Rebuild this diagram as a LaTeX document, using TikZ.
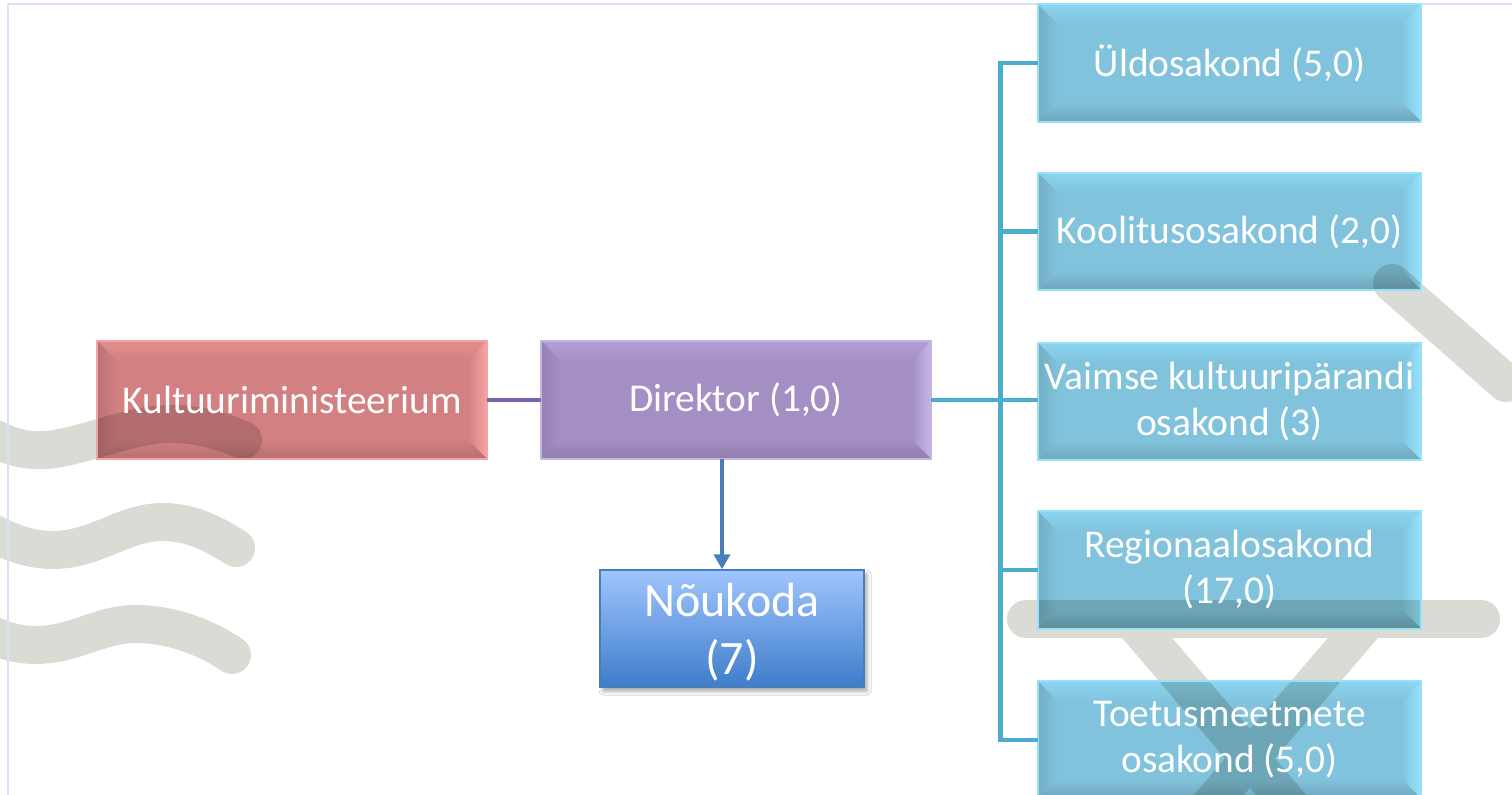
\documentclass[tikz,border=0pt]{standalone}
\usepackage{fontspec}
\setmainfont{Carlito}
\usetikzlibrary{calc,arrows.meta,shadows.blur}
\pgfdeclarelayer{deco}
\pgfdeclarelayer{boxes}
\pgfsetlayers{deco,boxes,main}
\definecolor{decoGrey}{HTML}{D9DBD5}
\definecolor{frameBlue}{HTML}{D8E2F3}
\definecolor{rMain}{HTML}{D38082}
\definecolor{rTop}{HTML}{E48E8F}
\definecolor{rRight}{HTML}{F6A4A4}
\definecolor{rLeft}{HTML}{BA7173}
\definecolor{rBot}{HTML}{B56E70}
\definecolor{rLine}{HTML}{F2A3A3}
\definecolor{pMain}{HTML}{A48FC4}
\definecolor{pTop}{HTML}{B4A0D7}
\definecolor{pRight}{HTML}{C8B6EB}
\definecolor{pLeft}{HTML}{9482B0}
\definecolor{pBot}{HTML}{8F7EAA}
\definecolor{pLine}{HTML}{C5B5E5}
\definecolor{bMain}{HTML}{81C3DC}
\definecolor{bTop}{HTML}{8BD5F0}
\definecolor{bRight}{HTML}{95E4FF}
\definecolor{bLeft}{HTML}{72ADC3}
\definecolor{bBot}{HTML}{6FA5BA}
\definecolor{bLine}{HTML}{97E1FA}
\definecolor{nouTop}{HTML}{A0C5FD}
\definecolor{nouBot}{HTML}{3E7DCA}
\definecolor{nouLine}{HTML}{4A7EBB}
\definecolor{busBlue}{HTML}{4BACCB}
\definecolor{purpLine}{HTML}{7E62A6}
\definecolor{arrBlue}{HTML}{4A7EBB}
\newcommand\bevelbox[6]{%
  \path (#1.north west) coordinate (bvA) (#1.north east) coordinate (bvB)
        (#1.south east) coordinate (bvC) (#1.south west) coordinate (bvD);
  \path ($(bvA)+(20,20)$) coordinate (bva) ($(bvB)+(-20,20)$) coordinate (bvb)
        ($(bvC)+(-20,-20)$) coordinate (bvc) ($(bvD)+(20,-20)$) coordinate (bvd);
  \fill[#2] (bvA) rectangle (bvC);
  \shade[top color=#3, bottom color=#2] (bvA) -- (bvB) -- (bvb) -- (bva) -- cycle;
  \shade[left color=#2, right color=#4] (bvB) -- (bvC) -- (bvc) -- (bvb) -- cycle;
  \shade[left color=#5, right color=#2] (bvA) -- (bva) -- (bvd) -- (bvD) -- cycle;
  \shade[top color=#2, bottom color=#6] (bvD) -- (bvd) -- (bvc) -- (bvC) -- cycle;
}
\tikzset{
  box/.style={minimum width=195pt, minimum height=59pt, inner sep=0pt, align=center,
    text=white, font=\fontsize{19.7}{23}\selectfont},
  deptbox/.style={box, minimum width=191.5pt, minimum height=58.5pt},
  nbox/.style={minimum width=132pt, minimum height=58.5pt, inner sep=0pt,
    top color=nouTop, bottom color=nouBot, draw=nouLine, line width=0.7pt,
    blur shadow={shadow xshift=1.5pt, shadow yshift=-2pt, shadow blur radius=2pt, shadow opacity=35}},
  ntext/.style={inner sep=0pt, align=center, text=white, font=\fontsize{24}{29}\selectfont},
  decoline/.style={draw=decoGrey, line width=19pt, line cap=round},
  busline/.style={draw=busBlue, line width=2.4pt},
  purpline/.style={draw=purpLine, line width=2.4pt},
  arrline/.style={draw=arrBlue, line width=2.4pt, -{Triangle[width=8pt,length=7.5pt]}},
  outline/.style={line width=1pt}
}
\begin{document}
\begin{tikzpicture}[x=0.5pt, y=-0.5pt]
\useasboundingbox (0,0) rectangle (1512,795);
\begin{scope}
\clip (0,0) rectangle (1512,795);
% nodes
\node[box] (km) at (292,400) {Kultuuriministeerium};
\node[box] (dir) at (736,400) {Direktor (1,0)};
\node[nbox] (nou) at (732,628.5) {};
\node[ntext] (noutext) at ($(nou.center)+(0,4)$) {Nõukoda\\(7)};
\node[deptbox] (d1) at (1229.5,63) {Üldosakond (5,0)};
\node[deptbox] (d2) at (1229.5,231.5) {Koolitusosakond (2,0)};
\node[deptbox] (d3) at (1229.5,401.5) {Vaimse kultuuripärandi\\osakond (3)};
\node[deptbox] (d4) at (1229.5,570) {Regionaalosakond\\(17,0)};
\node[deptbox] (d5) at (1229.5,740) {Toetusmeetmete\\osakond (5,0)};
% connectors
\draw[purpline] (km.east) -- (dir.west);
\draw[busline] (dir.east) -- ++(69,0) coordinate (bus);
\foreach \d in {d1,d2,d4,d5} {\draw[busline] (bus) |- (\d.west);}
\draw[busline] (bus) -- (bus -| d3.west);
\draw[arrline] ($(dir.south)+(-14,0)$) -- ($(nou.north)+(-10,0)$);
\end{scope}
% decoration
\begin{pgfonlayer}{deco}
\clip (0,0) rectangle (1512,795);
\fill[white] (0,0) rectangle (1512,795);
\draw[decoline] (-40,420) .. controls (-5,440) and (15,452) .. (45,450)
  .. controls (80,448) and (130,424) .. (170,424) .. controls (200,424) and (225,432) .. (243,440);
\draw[decoline] (-40,515) .. controls (-5,535) and (20,550) .. (53,550)
  .. controls (95,550) and (125,522) .. (162,522) .. controls (195,522) and (218,537) .. (236,548);
\draw[decoline] (-40,620) .. controls (-10,635) and (10,645) .. (35,645)
  .. controls (75,645) and (100,624) .. (135,624) .. controls (175,624) and (210,640) .. (232,655);
\draw[decoline] (1392,283) -- (1506,383);
\draw[decoline] (1026,619) -- (1481,619);
\draw[decoline] (1131,619) -- (1300,817);
\draw[decoline] (1369,619) -- (1200,817);
\draw[frameBlue, line width=1.2pt] (8,800) -- (8,4) -- (1520,4);
\end{pgfonlayer}
% box bodies
\begin{pgfonlayer}{boxes}
\clip (0,0) rectangle (1512,795);
\begin{scope}[blend mode=multiply]
\begin{scope}[transparency group]
\bevelbox{km}{rMain}{rTop}{rRight}{rLeft}{rBot}
\bevelbox{dir}{pMain}{pTop}{pRight}{pLeft}{pBot}
\foreach \d in {d1,d2,d3,d4,d5} {\bevelbox{\d}{bMain}{bTop}{bRight}{bLeft}{bBot}}
\end{scope}
\end{scope}
\draw[rLine, outline] (km.north west) rectangle (km.south east);
\draw[pLine, outline] (dir.north west) rectangle (dir.south east);
\foreach \d in {d1,d2,d3,d4,d5} {\draw[bLine, outline] (\d.north west) rectangle (\d.south east);}
\end{pgfonlayer}
\end{tikzpicture}
\end{document}
